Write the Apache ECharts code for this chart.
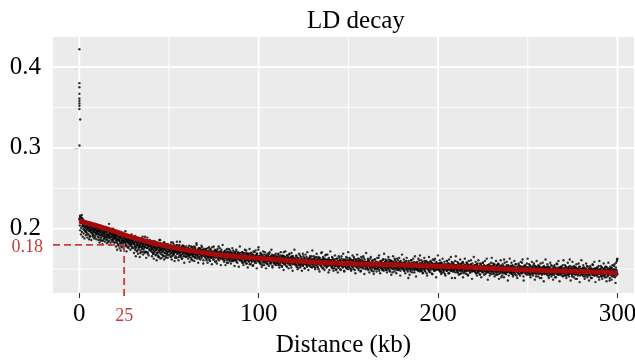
<!DOCTYPE html>
<html>
<head>
<meta charset="utf-8">
<title>LD decay</title>
<script src="https://cdn.jsdelivr.net/npm/echarts@6.0.0/dist/echarts.min.js"></script>
<style>
  html, body { margin: 0; padding: 0; background: #ffffff; }
  #chart { width: 635px; height: 361px; }
</style>
</head>
<body>
<div id="chart"></div>
<script>
// Mean r² per 0.2-kb distance bin, stored ×1000 (bins 0.2 … 300 kb).
const binKb = 0.2;
const ldNear = [
  213,216,212,215,214,211,217,213,209,205,211,203,207,200,206,198,204,208,196,202,205,199,203,193,206,201,197,204,190,200,207,198,202,195,203,199,205,192,201,196,204,198,189,200,203,194,199,202,197,193,
  200,194,197,189,198,203,192,196,186,199,195,190,201,193,197,185,194,199,191,196,188,198,193,202,190,195,187,197,192,184,199,191,206,194,189,196,183,193,198,190,195,187,192,200,186,194,190,197,188,193,
  192,186,195,189,183,191,187,194,180,190,185,193,188,182,191,179,189,186,194,184,188,181,190,185,192,178,187,183,189,186,180,191,184,188,177,186,190,182,187,184,179,189,183,186,181,188,176,185,183,187,
  186,181,189,178,184,191,176,183,187,180,185,173,182,188,179,184,177,186,181,170,183,188,178,182,175,185,180,187,172,181,184,177,190,179,183,171,182,186,176,180,169,184,178,181,175,183,179,174,182,177,
  180,175,183,171,178,185,169,177,181,173,176,184,167,179,174,182,170,177,180,165,178,173,186,171,176,163,179,174,181,168,175,178,172,180,166,176,183,170,174,177,164,179,172,176,169,175,181,167,173,176,
  177,172,180,169,175,183,166,174,178,171,176,168,181,173,170,177,164,175,179,172,174,184,169,176,171,178,165,173,180,170,175,172,167,177,174,163,179,171,176,169,173,178,166,174,171,176,168,175,170,173,
  174,169,176,167,172,179,165,171,175,168,173,162,170,177,168,174,166,172,178,169,171,164,175,170,167,173,180,168,171,165,174,169,176,163,172,168,175,170,166,173,171,177,167,170,174,161,172,169,175,168,
  171,166,174,168,163,172,169,176,165,170,167,173,161,169,175,166,171,164,170,168,177,165,169,172,162,170,167,174,166,171,168,160,173,169,165,171,167,178,164,169,172,166,170,163,168,174,165,170,167,169,
  169,164,171,166,161,168,173,165,167,170,158,166,172,164,169,167,175,162,168,165,170,163,167,171,160,166,169,164,173,167,165,161,168,170,163,166,172,159,167,164,169,165,171,162,166,168,164,170,161,166,
  163,168,160,166,171,158,164,167,162,165,170,159,164,161,173,166,157,163,168,162,165,160,169,163,156,166,164,170,161,167,159,164,162,168,155,165,163,171,160,166,162,167,158,164,169,161,165,163,174,160
];
const ldMid = [
  165,160,167,162,158,164,169,161,163,166,155,162,168,160,165,163,171,158,164,161,166,159,163,167,156,162,165,160,169,163,161,157,164,166,159,162,168,154,163,160,165,161,167,158,162,164,160,166,157,162,
  160,165,158,163,169,157,161,164,155,162,167,159,163,160,153,166,161,158,164,171,156,162,160,165,158,163,154,161,167,159,162,157,164,160,168,155,163,161,158,165,152,162,166,159,161,156,164,162,158,163,
  158,163,157,161,166,155,160,162,152,159,164,158,161,156,167,160,154,162,159,163,157,161,169,155,160,158,164,151,159,162,156,160,165,158,153,161,157,163,159,155,162,158,166,154,160,157,163,159,161,156,
  160,154,158,163,156,161,152,159,157,165,155,160,158,153,162,157,150,159,164,156,161,155,158,160,153,171,157,156,162,151,159,158,154,163,157,160,155,168,152,158,161,156,159,154,162,157,149,160,156,158,
  156,161,159,153,157,164,155,158,151,160,157,162,154,159,156,149,158,163,155,160,152,157,166,158,154,161,156,150,159,157,163,155,158,153,160,156,162,148,157,159,154,160,156,165,152,158,155,161,157,153,
  158,153,156,162,155,159,150,157,161,154,156,160,152,158,165,155,157,149,159,154,161,156,153,158,155,163,151,157,159,154,156,152,160,157,148,155,162,156,153,158,155,164,151,157,154,159,156,150,158,155,
  157,152,159,155,161,150,156,158,153,155,163,154,157,149,156,160,152,155,158,147,156,153,162,155,151,157,154,159,150,156,155,158,152,164,154,148,157,155,160,153,156,151,158,154,157,162,150,155,153,157,
  154,159,151,156,153,160,149,155,157,152,155,162,150,154,158,147,156,153,160,151,155,157,146,154,159,152,156,150,163,153,155,151,158,154,149,156,153,161,152,155,157,150,154,159,148,155,152,157,154,151,
  155,150,157,153,158,148,154,156,151,154,160,152,155,149,157,153,139,154,158,150,153,156,147,155,161,151,154,157,149,153,155,152,159,146,154,156,150,153,158,151,154,149,156,152,163,150,155,153,157,148,
  152,157,149,155,151,158,146,153,156,150,154,160,148,153,157,151,155,145,154,152,158,150,153,156,147,154,152,159,149,153,155,151,157,144,153,150,156,152,161,148,154,151,156,149,153,157,150,155,152,154
];
const ldFar = [
  154,149,152,157,150,155,147,153,151,158,146,152,155,150,153,148,156,151,144,153,150,155,152,160,148,151,154,149,157,152,145,153,150,155,151,148,154,159,150,152,147,153,156,149,151,154,139,152,150,155,
  150,155,148,153,146,152,157,149,151,154,144,152,150,156,148,153,151,147,159,150,153,145,151,155,149,152,147,154,150,158,148,152,143,151,155,149,153,150,146,152,156,149,151,154,147,150,153,148,152,150,
  152,147,150,155,149,153,145,151,148,157,150,146,152,154,148,151,143,150,156,149,153,147,151,149,158,146,150,152,148,154,151,144,150,153,147,152,149,155,146,151,148,153,150,142,152,149,154,147,151,150,
  149,154,147,152,145,150,156,148,151,153,143,150,148,155,146,152,150,157,144,149,152,147,151,148,154,140,150,146,153,149,151,145,150,162,147,152,149,144,151,148,155,146,150,153,148,151,142,149,152,147,
  150,145,152,148,154,146,149,151,143,150,147,153,149,145,151,156,148,150,142,149,152,146,150,148,155,144,149,151,147,153,145,150,148,158,146,149,152,141,150,147,151,148,154,145,149,150,146,152,148,149,
  147,152,145,150,148,155,143,149,151,146,150,153,144,148,151,147,157,145,149,152,146,150,141,148,153,147,149,145,151,148,154,144,150,147,152,146,149,139,151,148,145,150,153,147,149,144,152,148,150,146,
  149,144,151,147,153,145,148,150,142,149,146,152,148,144,155,147,150,143,149,151,145,148,153,146,149,140,151,147,150,144,148,156,145,149,147,152,143,148,150,146,151,144,149,147,153,145,148,150,142,149,
  146,151,144,149,147,153,142,148,150,145,149,143,152,147,150,144,162,146,149,151,145,148,141,150,147,153,144,148,146,151,149,143,147,152,145,150,138,148,146,150,144,149,153,146,148,142,150,147,145,149,
  148,143,150,146,152,144,147,149,141,148,145,151,147,143,154,146,149,142,148,150,144,147,152,145,148,139,150,146,149,143,147,155,144,148,146,151,142,147,149,145,150,143,148,146,152,144,147,149,137,148,
  145,150,143,148,146,152,141,147,149,144,148,142,151,146,149,143,147,153,140,146,149,144,147,142,151,145,148,136,146,150,143,147,145,152,141,146,149,144,148,154,143,147,140,149,145,158,142,146,162,144
];

// Second set of bins, centred half a bin later (0.1 … 299.9 kb), also ×1000.
const ldNearB = [
  211,204,198,207,193,201,209,196,203,190,205,199,194,208,188,202,197,206,192,200,195,203,189,199,206,193,201,187,198,204,191,196,202,186,199,194,205,190,197,193,200,188,196,203,191,198,194,187,201,195,
  197,190,203,186,194,199,183,192,196,188,201,185,193,198,181,191,195,187,200,189,194,184,197,190,202,186,192,182,196,189,193,199,185,191,188,195,180,193,197,186,190,194,184,198,188,192,183,195,189,191,
  183,189,178,192,185,174,187,181,195,179,186,190,176,184,188,173,191,182,185,177,194,180,186,183,175,189,184,179,197,181,187,172,185,190,178,183,186,176,192,181,184,188,174,186,180,193,178,185,182,187,
  176,183,170,181,188,174,179,166,185,177,172,182,180,169,187,175,178,184,165,180,173,186,177,171,182,178,190,168,179,175,183,170,177,185,172,180,164,181,176,189,171,178,183,167,180,174,186,173,178,181,
  172,178,166,175,181,169,174,163,179,171,177,184,168,173,176,161,180,170,175,167,182,172,165,177,174,186,169,173,178,164,176,171,180,167,174,183,162,175,170,178,166,173,181,168,176,171,164,179,172,175,
  175,168,173,179,165,171,177,162,170,174,183,167,172,169,176,160,173,178,166,171,174,164,180,169,172,176,161,170,175,167,184,171,165,173,168,177,163,172,170,179,166,174,158,171,176,169,173,165,178,170,
  166,172,170,163,176,168,171,159,174,167,169,178,164,170,173,161,168,175,166,172,160,169,177,165,171,168,182,163,170,174,167,158,172,169,165,176,170,162,173,168,179,164,171,167,174,157,169,172,166,170,
  170,164,168,175,161,167,172,158,166,169,163,177,165,171,160,168,174,164,167,156,172,166,169,162,178,165,170,167,159,173,164,168,171,157,166,175,163,169,167,161,170,176,164,168,155,172,166,169,163,180,
  162,168,165,159,172,164,167,155,170,163,166,175,161,168,158,165,171,163,166,160,173,164,157,167,169,162,176,165,160,168,163,171,154,166,169,161,165,174,162,167,158,170,164,166,153,168,163,178,161,165,
  167,161,165,171,158,164,169,155,163,166,160,174,162,168,157,165,170,161,164,152,169,163,166,159,175,162,167,164,156,170,161,165,168,154,163,172,160,166,164,158,167,173,161,165,151,169,163,166,160,177
];
const ldMidB = [
  160,166,158,163,170,156,162,167,153,161,165,158,172,160,164,155,162,168,159,163,151,165,161,157,169,162,160,166,154,163,171,159,161,165,157,174,160,163,152,166,162,158,167,161,156,164,160,169,155,162,
  164,158,162,168,155,161,166,152,160,163,157,171,159,165,154,162,167,158,161,149,166,160,163,156,172,159,164,161,153,167,158,162,165,151,160,169,157,163,161,155,164,170,158,162,148,166,160,163,157,174,
  157,163,155,160,167,153,159,164,150,158,162,155,169,157,161,152,159,165,156,160,148,162,158,154,166,159,157,163,151,160,168,156,158,162,154,171,157,160,149,163,159,155,164,158,153,161,157,166,152,173,
  162,156,160,166,153,159,164,150,158,161,155,169,157,163,152,160,165,156,159,147,164,158,161,154,170,157,162,159,151,165,156,160,163,149,158,167,155,161,159,153,162,168,156,160,146,164,158,161,155,172,
  155,161,153,158,165,151,157,162,148,156,160,153,167,155,159,150,157,163,154,158,146,160,156,152,164,157,155,161,149,158,166,154,156,160,152,169,155,158,147,161,157,153,162,156,151,159,155,164,150,171,
  160,154,158,164,151,157,162,148,156,159,153,167,155,161,150,158,163,154,157,145,162,156,159,152,168,155,160,157,149,163,154,158,161,147,156,165,153,159,157,151,160,166,154,158,144,162,156,159,153,170,
  153,159,151,156,163,149,155,160,146,154,158,151,165,153,157,148,155,161,152,156,144,158,154,150,162,155,153,159,147,156,164,152,154,158,150,167,153,156,145,159,155,151,160,154,149,157,153,162,148,169,
  158,152,156,162,149,155,160,146,154,157,151,165,153,159,148,156,161,152,155,143,160,154,157,150,166,153,158,155,147,161,152,156,159,145,154,163,151,157,155,149,158,164,152,156,142,160,154,157,151,168,
  152,158,150,155,162,148,154,159,145,153,157,150,164,152,156,147,154,160,151,155,143,157,153,149,161,154,152,158,146,155,163,151,153,157,149,166,152,155,141,158,154,150,159,153,148,156,152,161,147,167,
  157,151,155,161,148,154,159,145,153,156,150,164,152,158,147,155,160,151,154,142,159,153,156,149,165,152,157,154,146,160,151,155,158,144,153,162,150,156,154,148,157,163,151,155,140,159,153,156,150,167
];
const ldFarB = [
  151,157,149,154,161,147,153,158,144,152,156,149,163,151,155,146,153,159,150,154,142,156,152,148,160,153,151,157,145,154,162,150,152,156,148,165,151,154,139,157,153,149,158,152,147,155,151,160,146,166,
  155,149,153,159,146,152,157,143,151,154,148,162,150,156,145,153,158,149,152,140,157,151,154,147,163,150,155,152,144,158,149,153,156,142,151,160,148,154,152,146,155,161,149,153,138,157,151,154,148,165,
  149,155,147,152,159,145,151,156,142,150,154,147,161,149,153,144,151,157,148,152,140,154,150,146,158,151,149,155,143,152,160,148,150,154,146,163,149,152,137,155,151,147,156,150,145,153,149,158,144,164,
  153,147,151,157,144,150,155,141,149,152,146,160,148,154,143,151,156,147,150,138,155,149,152,145,161,148,153,150,142,156,147,151,154,140,149,158,146,152,150,144,153,159,147,151,136,155,149,152,146,163,
  148,154,146,151,158,144,150,155,141,149,153,146,160,148,152,143,150,156,147,151,139,153,149,145,157,150,148,154,142,151,159,147,149,153,145,162,148,151,136,154,150,146,155,149,144,152,148,157,143,163,
  152,146,150,156,143,149,154,140,148,151,145,159,147,153,142,150,155,146,149,137,154,148,151,144,160,147,152,149,141,155,146,150,153,139,148,157,145,151,149,143,152,158,146,150,135,154,148,151,145,162,
  146,152,144,149,156,142,148,153,139,147,151,144,158,146,150,141,148,154,145,149,137,151,147,143,155,148,146,152,140,149,157,145,147,151,143,160,146,149,135,152,148,144,153,147,142,150,146,155,141,161,
  151,145,149,155,142,148,153,139,147,150,144,158,146,152,141,149,154,145,148,136,153,147,150,143,159,146,151,148,140,154,145,149,152,138,147,156,144,150,148,142,151,157,145,149,134,153,147,150,144,161,
  145,151,143,148,155,141,147,152,138,146,150,143,157,145,149,140,147,153,144,148,136,150,146,142,154,147,145,151,139,148,156,144,146,150,142,159,145,148,134,151,147,143,152,146,141,149,145,154,140,160,
  150,144,148,154,141,147,152,138,146,149,143,157,145,151,140,148,153,144,147,135,152,146,149,142,158,145,150,147,139,153,144,148,151,137,146,155,143,149,147,141,150,156,144,148,133,152,146,149,160,163
];

// Very short-range pairs with high r²
const shortKb = [0.05, 0.05, 0.05, 0.05, 0.05, 0.05, 0.05, 0.05, 0.05, 0.5, 0.1];
const shortR2 = [0.422, 0.380, 0.375, 0.367, 0.361, 0.358, 0.355, 0.352, 0.348, 0.335, 0.303];

// Fitted decay curve
const fitKb = [0, 5, 10, 15, 20, 25, 30, 40, 50, 60, 75, 90, 100, 125, 150, 175, 200, 225, 250, 275, 300];
const fitR2 = [0.210, 0.2065, 0.2035, 0.2, 0.1965, 0.1925, 0.189, 0.183, 0.178, 0.1735, 0.1685, 0.165, 0.1635, 0.1595, 0.157, 0.1555, 0.1535, 0.1515, 0.149, 0.1475, 0.1455];

// Half-decay guide
const guideKb = 25;
const guideR2 = 0.18;

// Axis breaks
const xBreaks = [0, 100, 200, 300];
const xMinorBreaks = [50, 150, 250];
const yBreaks = [0.2, 0.3, 0.4];
const yMinorBreaks = [0.15, 0.25, 0.35];

const X_MIN = -14.66, X_MAX = 309.2;
const Y_MIN = 0.1205, Y_MAX = 0.4371;

const SERIF = 'Liberation Serif';
const GUIDE_RED = '#C93C3C';

const binnedA = ldNear.concat(ldMid, ldFar).map((v, i) => [(i + 1) * binKb, v / 1000]);
const binnedB = ldNearB.concat(ldMidB, ldFarB).map((v, i) => [(i + 0.5) * binKb, v / 1000]);
const shortPts = shortKb.map((k, i) => [k, shortR2[i]]);
const fitPts = fitKb.map((k, i) => [k, fitR2[i]]);

function gridLines(values, vertical, width) {
  return {
    type: 'custom',
    z: 1,
    silent: true,
    clip: false,
    data: values.map(v => vertical ? [v, Y_MIN] : [X_MIN, v]),
    renderItem(params, api) {
      const cs = params.coordSys;
      const p = api.coord([api.value(0), api.value(1)]);
      const shape = vertical
        ? { x1: p[0], y1: cs.y, x2: p[0], y2: cs.y + cs.height }
        : { x1: cs.x, y1: p[1], x2: cs.x + cs.width, y2: p[1] };
      return { type: 'line', shape, style: { stroke: '#ffffff', lineWidth: width } };
    }
  };
}

function dots(data) {
  return {
    type: 'scatter',
    z: 3,
    silent: true,
    symbol: 'circle',
    symbolSize: 2.4,
    itemStyle: { color: '#000' },
    data
  };
}

const chart = echarts.init(document.getElementById('chart'), null, { renderer: 'canvas' });

chart.setOption({
  animation: false,
  backgroundColor: '#ffffff',
  title: {
    text: 'LD decay',
    left: 302,
    top: 4,
    textStyle: { fontFamily: SERIF, fontSize: 25, fontWeight: 'normal', color: '#000' }
  },
  grid: {
    left: 53, right: 1, top: 37, bottom: 68,
    show: true, backgroundColor: '#EBEBEB', borderWidth: 0,
    containLabel: false, outerBoundsMode: 'none'
  },
  xAxis: {
    type: 'value',
    min: X_MIN, max: X_MAX,
    name: 'Distance (kb)',
    nameLocation: 'middle',
    nameGap: 40,
    nameTextStyle: { fontFamily: SERIF, fontSize: 25, color: '#000' },
    axisLine: { show: false },
    axisTick: { show: true, customValues: xBreaks, length: 5, lineStyle: { color: '#333', width: 1.1 } },
    axisLabel: { customValues: xBreaks, fontFamily: SERIF, fontSize: 25, color: '#000', margin: 9 },
    splitLine: { show: false }
  },
  yAxis: {
    type: 'value',
    min: Y_MIN, max: Y_MAX,
    axisLine: { show: false },
    axisTick: { show: true, customValues: yBreaks, length: 5, lineStyle: { color: '#333', width: 1.1 } },
    axisLabel: {
      customValues: yBreaks, fontFamily: SERIF, fontSize: 25, color: '#000', margin: 12,
      formatter: v => String(+v.toFixed(2))
    },
    splitLine: { show: false }
  },
  series: [
    gridLines(xMinorBreaks, true, 1.0),
    gridLines(yMinorBreaks, false, 1.0),
    gridLines(xBreaks, true, 1.8),
    gridLines(yBreaks, false, 1.8),
    dots(binnedA),
    dots(binnedB),
    dots(shortPts),
    {
      type: 'custom',
      z: 4,
      silent: true,
      clip: false,
      data: [[guideKb, guideR2]],
      renderItem(params, api) {
        const cs = params.coordSys;
        const kb = api.value(0), r2 = api.value(1);
        const p = api.coord([kb, r2]);
        const bottom = cs.y + cs.height;
        const dash = { stroke: GUIDE_RED, lineWidth: 1.8, lineDash: [7, 4] };
        return {
          type: 'group',
          children: [
            { type: 'line', shape: { x1: cs.x, y1: p[1], x2: p[0], y2: p[1] }, style: dash },
            { type: 'line', shape: { x1: p[0], y1: p[1], x2: p[0], y2: bottom + 6 }, style: dash },
            { type: 'text', x: cs.x - 10, y: p[1] + 2,
              style: { text: String(r2), fill: GUIDE_RED, fontFamily: SERIF, fontSize: 18, align: 'right', verticalAlign: 'middle' } },
            { type: 'text', x: p[0], y: bottom + 23,
              style: { text: String(kb), fill: GUIDE_RED, fontFamily: SERIF, fontSize: 18, align: 'center', verticalAlign: 'middle' } }
          ]
        };
      }
    },
    {
      type: 'line',
      z: 5,
      silent: true,
      smooth: 0.5,
      symbol: 'none',
      lineStyle: { color: '#A50A0A', width: 5 },
      data: fitPts
    }
  ]
});
</script>
</body>
</html>
